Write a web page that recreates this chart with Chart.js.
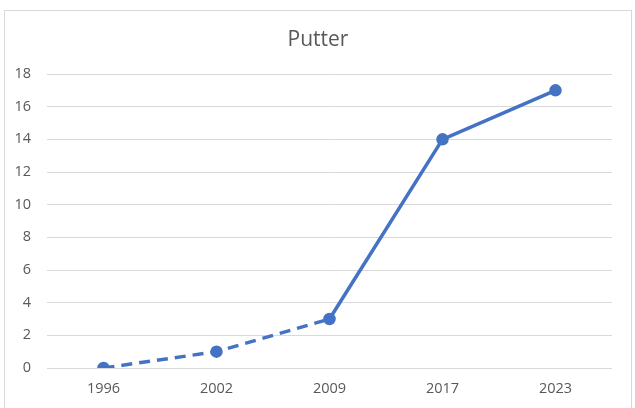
<!DOCTYPE html>
<html><head><meta charset="utf-8">
<script src="https://cdn.jsdelivr.net/npm/chart.js@4/dist/chart.umd.min.js"></script>
<style>
html,body{margin:0;padding:0;background:#fff;}
#wrap{position:relative;width:635px;height:408px;}
#frame{position:absolute;left:4px;top:10px;width:628px;height:420px;border:1px solid #d9d9d9;box-sizing:border-box;pointer-events:none;}
canvas{position:absolute;left:0;top:0;}
</style></head>
<body>
<div id="wrap"><canvas id="c" width="635" height="408"></canvas><div id="frame"></div></div>
<script>
const title = "Putter";
const categories = ["1996", "2002", "2009", "2017", "2023"];
const values = [0, 1, 3, 14, 17];
const dashedUntil = 2; // segments ending at or before index 2 are dashed

const blue = "#4472C4";
const fam = "'Open Sans', 'Noto Sans', sans-serif";
const centerTitle = {
  id: "centerTitle",
  afterLayout(chart) {
    const t = chart.titleBlock;
    if (t) { t.left = 4; t.right = 632; }
  }
};
new Chart(document.getElementById("c"), {
  type: "line",
  data: {
    labels: categories,
    datasets: [{
      data: values,
      borderColor: blue,
      backgroundColor: blue,
      borderWidth: 3.5,
      pointRadius: 4.5,
      pointHoverRadius: 4.5,
      pointBackgroundColor: blue,
      pointBorderColor: blue,
      tension: 0,
      segment: {
        borderDash: ctx => ctx.p1DataIndex <= dashedUntil ? [11, 7] : undefined
      }
    }]
  },
  plugins: [centerTitle],
  options: {
    responsive: false,
    animation: false,
    layout: { padding: { left: 0, right: 23, top: 0, bottom: 0 } },
    plugins: {
      legend: { display: false },
      tooltip: { enabled: false },
      title: {
        display: true, text: title, color: "#595959",
        font: { family: fam, size: 21, weight: "normal", lineHeight: 1.2 },
        padding: { top: 27, bottom: 21.8 }
      }
    },
    scales: {
      x: {
        offset: true,
        grid: { display: false, drawTicks: false },
        border: { display: false },
        ticks: { color: "#595959", padding: 12, font: { family: fam, size: 14.5 } },
        afterFit: s => { s.height = 40; }
      },
      y: {
        min: 0, max: 18,
        ticks: { stepSize: 2, color: "#595959", padding: 16, font: { family: fam, size: 14.5 } },
        grid: { color: "#d9d9d9", lineWidth: 1, drawTicks: false },
        border: { display: false },
        afterFit: s => { s.width = 47; }
      }
    }
  }
});
</script>
</body></html>
